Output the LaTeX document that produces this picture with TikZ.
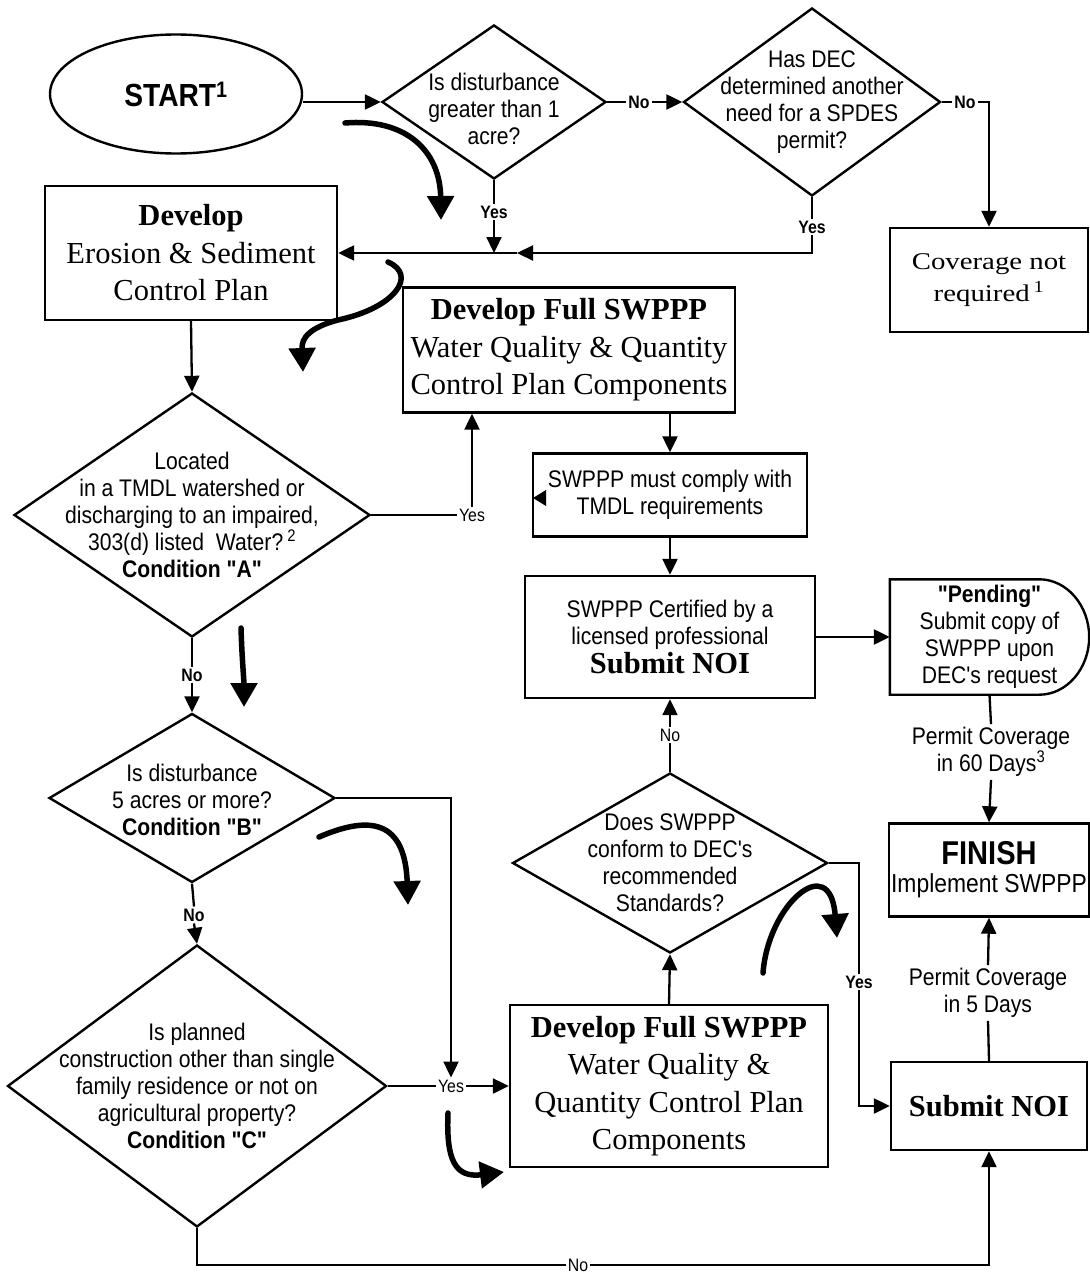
\documentclass[tikz,border=0pt]{standalone}
\usepackage{fontspec}
\setmainfont[Ligatures=TeXOff]{Liberation Serif}
\setsansfont[FakeStretch=0.88, Ligatures=TeXOff]{Liberation Sans}
\newfontfamily\covserif[FakeStretch=1.2]{Liberation Serif}
\usepackage{tikz}
\usetikzlibrary{shapes.geometric}
\usetikzlibrary{arrows.meta}
\usetikzlibrary{calc}

\newcommand{\qtxt}{\sffamily\fontsize{24}{27}\selectfont}
\newcommand{\btxt}{\rmfamily\fontsize{30.5}{37.5}\selectfont}
\newcommand{\ltxt}{\sffamily\fontsize{18}{20}\selectfont}

\begin{document}
\begin{tikzpicture}[x=1pt, y=-1pt,
    decision/.style={diamond, draw, line width=2.4pt, inner sep=0pt},
    stepbox/.style={rectangle, draw, line width=2.4pt, align=center, inner sep=2pt},
    qlabel/.style={font=\qtxt, align=center},
    note/.style={font=\qtxt, align=center, inner sep=3pt},
    lbl/.style={font=\ltxt, inner sep=2pt},
    lblb/.style={font=\ltxt\bfseries, inner sep=2pt},
    flow/.style={line width=2.3pt, -{Triangle[width=15pt,length=16pt]}},
    conn/.style={line width=2.3pt},
    scribble/.style={line width=5.5pt, line cap=round, -{Triangle[width=26pt,length=24pt]}}]
    \useasboundingbox (0,0) rectangle (1089,1276);

    % top row
    \node[ellipse, draw, line width=2.4pt, minimum width=252, minimum height=119,
          font=\sffamily\bfseries\fontsize{32}{34}\selectfont] (start) at (176,94) {START\textsuperscript{1}};
    \node[decision, minimum width=224, minimum height=154,
          label={[qlabel, yshift=-7pt]center:{Is disturbance\\greater than 1\\acre?}}] (disturb) at (494,102) {};
    \node[decision, minimum width=257, minimum height=188,
          label={[qlabel]center:{Has DEC\\determined another\\need for a SPDES\\permit?}}] (decneed) at (812,102) {};
    \node[stepbox, minimum width=198, minimum height=104,
          font=\covserif\fontsize{24}{32}\selectfont] (notreq) at (989,280) {Coverage not\\required\,\textsuperscript{1}};

    % left column
    \node[stepbox, minimum width=292, minimum height=134, font=\btxt] (escplan) at (191,253)
        {\textbf{Develop}\\Erosion \& Sediment\\Control Plan};
    \node[decision, minimum width=356, minimum height=244,
          label={[qlabel]center:{Located\\in a TMDL watershed or\\discharging to an impaired,\\303(d) listed\ \ Water?\,\textsuperscript{2}\\\textbf{Condition "A"}}}] (tmdlq) at (192,515) {};
    \node[decision, minimum width=286, minimum height=169,
          label={[qlabel, yshift=-2pt]center:{Is disturbance\\5 acres or more?\\\textbf{Condition "B"}}}] (acres) at (192,798) {};
    \node[decision, minimum width=379, minimum height=282,
          label={[qlabel]center:{Is planned\\construction other than single\\family residence or not on\\agricultural property?\\\textbf{Condition "C"}}}] (planned) at (197,1086) {};

    % middle column
    \node[stepbox, minimum width=332, minimum height=125, font=\btxt] (fullA) at (569,350)
        {\textbf{Develop Full SWPPP}\\Water Quality \& Quantity\\Control Plan Components};
    \node[stepbox, minimum width=274, minimum height=83, font=\qtxt] (tmdl) at (670,495)
        {SWPPP must comply with\\TMDL requirements};
    \node[stepbox, minimum width=290, minimum height=122, font=\qtxt] (certnoi) at (670,637)
        {SWPPP Certified by a\\licensed professional\\[2pt]{\btxt\textbf{Submit NOI}}};
    \node[decision, minimum width=315, minimum height=180,
          label={[qlabel]center:{Does SWPPP\\conform to DEC's\\recommended\\Standards?}}] (conform) at (670,863) {};
    \node[stepbox, minimum width=318, minimum height=162, font=\btxt] (fullB) at (669,1086)
        {\textbf{Develop Full SWPPP}\\Water Quality \&\\Quantity Control Plan\\Components};

    % right column
    \node[minimum width=199, minimum height=115, align=center, font=\qtxt] (pending) at (989.5,637)
        {\textbf{"Pending"}\\Submit copy of\\SWPPP upon\\DEC's request};
    \draw[line width=2.4pt] (pending.north west) -- ([xshift=-50pt]pending.north east)
        .. controls +(28pt,0) and +(0,31pt) .. (pending.east)
        .. controls +(0,-31pt) and +(28pt,0) .. ([xshift=-50pt]pending.south east)
        -- (pending.south west) -- cycle;
    \node[note] (days60) at (991,752) {Permit Coverage\\in 60 Days\textsuperscript{3}};
    \node[stepbox, minimum width=200, minimum height=93, font=\sffamily\fontsize{26}{27}\selectfont] (finish) at (989,870)
        {{\bfseries\fontsize{33}{33}\selectfont FINISH}\\[1pt]Implement SWPPP};
    \node[note] (days5) at (988,993) {Permit Coverage\\in 5 Days};
    \node[stepbox, minimum width=196, minimum height=88, font=\btxt] (submit) at (989,1106) {\textbf{Submit NOI}};

    % yes / no labels
    \node[lblb] (no1) at (639,102) {No};
    \node[lblb] (no2) at (965,102) {No};
    \node[lblb] (yes1) at (494,212) {Yes};
    \node[lblb] (yes2) at (812,227) {Yes};
    \node[lbl] (yes3) at (472,515) {Yes};
    \node[lblb] (no3) at (192,675) {No};
    \node[lblb] (no4) at (194,915) {No};
    \node[lbl] (yes4) at (451,1086) {Yes};
    \node[lbl] (no5) at (670,735) {No};
    \node[lblb] (yes5) at (859,982) {Yes};
    \node[lbl] (no6) at (578,1265) {No};
    \coordinate (join) at (517,253);

    % connectors
    \draw[flow] (start.east |- disturb.west) -- (disturb.west);
    \draw[conn] (disturb.east) -- (no1.west);
    \draw[flow] (no1.east) -- (decneed.west);
    \draw[conn] (decneed.east) -- (no2.west);
    \draw[flow] (no2.east) -| (notreq.north);
    \draw[conn] (disturb.south) -- (yes1.north);
    \draw[flow] (yes1.south) -- (yes1.south |- join);
    \draw[conn] (decneed.south) -- (yes2.north);
    \draw[flow] (yes2.south) |- (join);
    \draw[flow] (join) -- (escplan.east);
    \draw[flow] (escplan.south) -- (tmdlq.north);
    \draw[conn] (tmdlq.east) -- (yes3.west);
    \draw[flow] (yes3.north) -- (yes3.north |- fullA.south);
    \draw[flow] (fullA.south -| tmdl.north) -- (tmdl.north);
    \draw[flow] (tmdl.south) -- (certnoi.north);
    \draw[flow] (certnoi.east) -- (pending.west);
    \draw[conn] (pending.south) -- (days60.north);
    \draw[flow] (days60.south) -- (finish.north);
    \draw[conn] (tmdlq.south) -- (no3.north);
    \draw[flow] (no3.south) -- (acres.north);
    \draw[conn] (acres.south) -- (no4.north);
    \draw[flow] (no4.south) -- (planned.north);
    \draw[flow] (acres.east) -| (yes4.north);
    \draw[conn] (planned.east) -- (yes4.west);
    \draw[flow] (yes4.east) -- (fullB.west);
    \draw[flow] (fullB.north) -- (conform.south);
    \draw[conn] (conform.north) -- (no5.south);
    \draw[flow] (no5.north) -- (certnoi.south);
    \draw[conn] (conform.east) -| (yes5.north);
    \draw[flow] (yes5.south) |- (submit.west);
    \draw[conn] (submit.north) -- (days5.south);
    \draw[flow] (days5.north) -- (finish.south);
    \draw[conn] (planned.south) |- (no6.west);
    \draw[flow] (no6.east) -| (submit.south);

    % stray tip in the TMDL box
    \fill (546,490) -- (533,498) -- (546,506) -- cycle;

    % hand drawn arrows
    \draw[scribble] (345,123) .. controls (405,118) and (440,150) .. (441,220);
    \draw[scribble] (388,262) .. controls (418,275) and (395,308) .. (338,320)
        .. controls (300,330) and (302,345) .. (303,372);
    \draw[scribble] (241,628) .. controls (242,660) and (244,680) .. (244,707);
    \draw[scribble] (319,837) .. controls (370,815) and (405,820) .. (408,905);
    \draw[scribble] (448,1113) .. controls (446,1160) and (455,1178) .. (504,1172);
    \draw[scribble] (763,973) .. controls (768,905) and (830,850) .. (837,938);
\end{tikzpicture}
\end{document}
